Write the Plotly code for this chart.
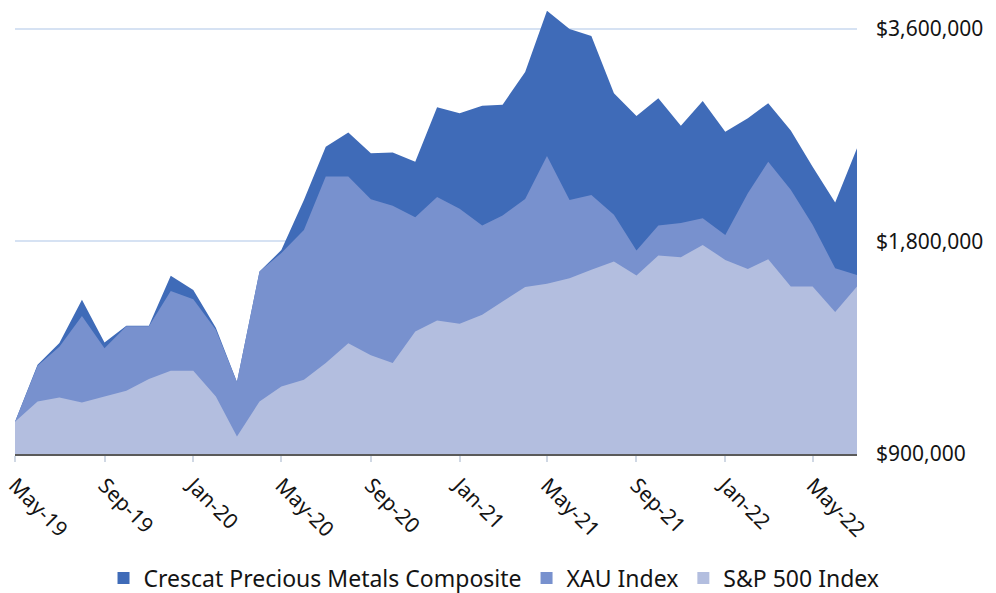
import math
import plotly.graph_objects as go

months = [
    "2019-05-01", "2019-06-01", "2019-07-01", "2019-08-01", "2019-09-01", "2019-10-01",
    "2019-11-01", "2019-12-01", "2020-01-01", "2020-02-01", "2020-03-01", "2020-04-01",
    "2020-05-01", "2020-06-01", "2020-07-01", "2020-08-01", "2020-09-01", "2020-10-01",
    "2020-11-01", "2020-12-01", "2021-01-01", "2021-02-01", "2021-03-01", "2021-04-01",
    "2021-05-01", "2021-06-01", "2021-07-01", "2021-08-01", "2021-09-01", "2021-10-01",
    "2021-11-01", "2021-12-01", "2022-01-01", "2022-02-01", "2022-03-01", "2022-04-01",
    "2022-05-01", "2022-06-01", "2022-07-01",
]

crescat = [
    1000000, 1204000, 1293000, 1488000, 1295000, 1367000, 1367000, 1609000, 1537000,
    1358000, 1138000, 1632000, 1750000, 2061000, 2452000, 2567000, 2400000, 2405000,
    2335000, 2788000, 2734000, 2803000, 2812000, 3128000, 3820000, 3600000, 3517000,
    2918000, 2710000, 2871000, 2626000, 2846000, 2575000, 2690000, 2825000, 2584000,
    2297000, 2043000, 2440000,
]

xau = [
    1000000, 1200000, 1277000, 1412000, 1271000, 1365000, 1365000, 1532000, 1491000,
    1350000, 1138000, 1632000, 1733000, 1869000, 2224000, 2224000, 2065000, 2023000,
    1948000, 2080000, 2002000, 1896000, 1959000, 2068000, 2379000, 2061000, 2095000,
    1963000, 1748000, 1896000, 1911000, 1942000, 1839000, 2107000, 2335000, 2130000,
    1900000, 1650000, 1614000,
]

sp500 = [
    1000000, 1068000, 1082000, 1065000, 1086000, 1106000, 1149000, 1181000, 1181000,
    1086000, 953000, 1068000, 1122000, 1147000, 1211000, 1292000, 1242000, 1211000,
    1342000, 1391000, 1376000, 1417000, 1480000, 1551000, 1568000, 1597000, 1641000,
    1686000, 1611000, 1719000, 1710000, 1780000, 1695000, 1645000, 1699000, 1554000,
    1554000, 1430000, 1554000,
]

series_names = ["Crescat Precious Metals Composite", "XAU Index", "S&P 500 Index"]
series_colors = ["#3F6BB8", "#7891CE", "#B3BEDF"]

x_tick_vals = ["2019-05-01", "2019-09-01", "2020-01-01", "2020-05-01", "2020-09-01",
               "2021-01-01", "2021-05-01", "2021-09-01", "2022-01-01", "2022-05-01"]
x_tick_text = ["May-19", "Sep-19", "Jan-20", "May-20", "Sep-20",
               "Jan-21", "May-21", "Sep-21", "Jan-22", "May-22"]

y_tick_vals = [900000, 1800000, 3600000]
y_tick_text = ["$900,000", "$1,800,000", "$3,600,000"]

FONT = "'Noto Sans', 'Open Sans', sans-serif"
TXT = "#141414"

fig = go.Figure()

for name, vals, col in zip(series_names, [crescat, xau, sp500], series_colors):
    fig.add_trace(go.Scatter(
        x=months, y=vals, mode="lines", fill="tozeroy",
        line=dict(width=0, color=col), fillcolor=col,
        name=name, showlegend=False, hoverinfo="skip",
    ))

for name, col in zip(series_names, series_colors):
    fig.add_trace(go.Scatter(
        x=[None], y=[None], mode="markers", name=name,
        marker=dict(symbol="square", size=15, color=col),
        showlegend=True,
    ))

fig.update_layout(
    width=996, height=593,
    margin=dict(l=15, r=139, t=8, b=139, autoexpand=False),
    paper_bgcolor="white", plot_bgcolor="white",
    font=dict(family=FONT, size=21, color=TXT),
    showlegend=True,
    hovermode=False,
    legend=dict(
        orientation="h", x=0.496, xref="container", xanchor="center",
        y=0.0253, yref="container", yanchor="middle",
        font=dict(size=23, family=FONT, color=TXT),
        itemsizing="constant", traceorder="normal",
    ),
    xaxis=dict(
        type="date",
        range=[months[0], months[-1]],
        automargin=False,
        tickmode="array", tickvals=x_tick_vals, ticktext=x_tick_text,
        tickangle=45,
        ticklabeloverflow="allow",
        showgrid=False, zeroline=False,
        showline=True, linecolor="#5a5a5a", linewidth=2,
        ticks="outside", ticklen=6, tickcolor="#d0d8e4", tickwidth=2,
        ticklabelstandoff=3,
        tickfont=dict(size=21, family=FONT, color=TXT),
    ),
    yaxis=dict(
        type="log",
        range=[math.log10(900000), math.log10(3854000)],
        side="right",
        automargin=False,
        tickmode="array", tickvals=y_tick_vals, ticktext=y_tick_text,
        showgrid=True, gridcolor="#d6e2f3", gridwidth=2,
        zeroline=False, showline=False, ticks="",
        ticklabelstandoff=18,
        tickfont=dict(size=21, family=FONT, color=TXT),
    ),
)

# remove the browser's default 8px body margin so the figure fills the window
fig.write_html(
    "out.html",
    config={"displayModeBar": False},
    post_script="document.body.style.margin='0px';",
)
